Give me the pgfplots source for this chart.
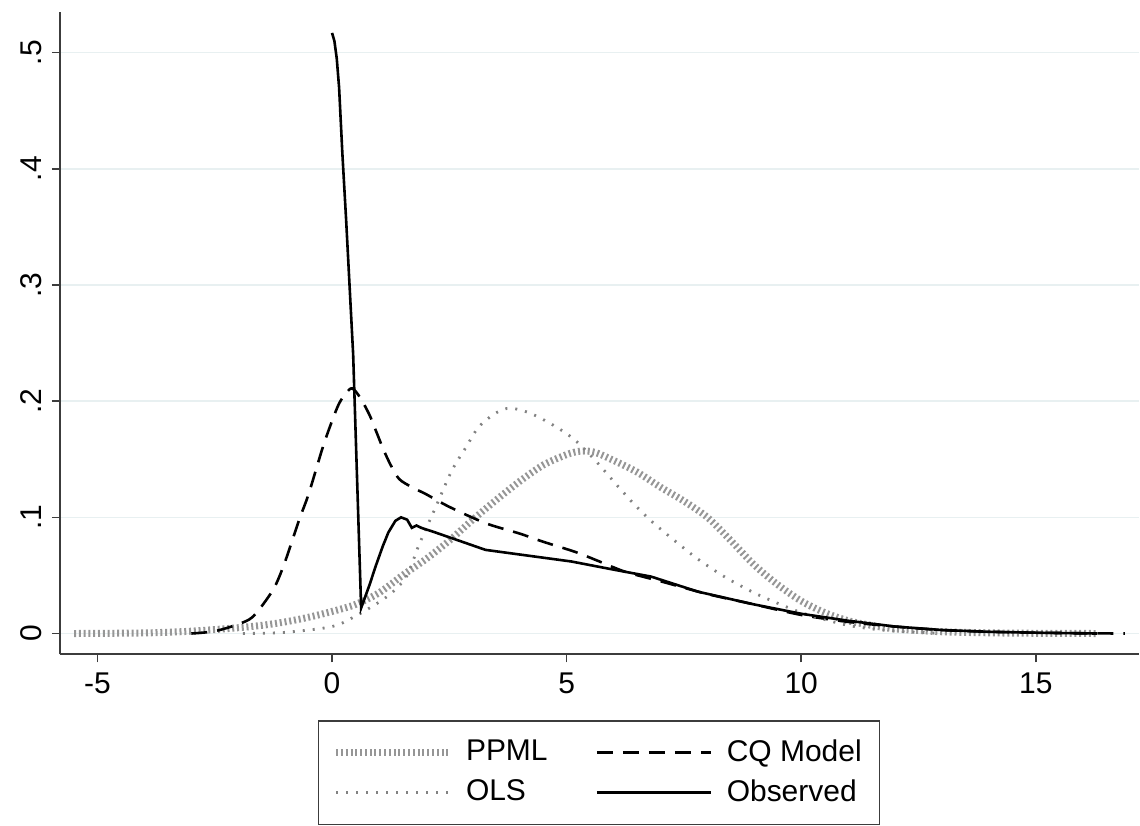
\documentclass[border=0pt]{standalone}
\usepackage{pgfplots}
\pgfplotsset{compat=1.18}
\usepackage{fontspec}
\setmainfont{Liberation Sans}
\definecolor{gridc}{RGB}{232,240,241}
\definecolor{axc}{RGB}{60,60,60}
\definecolor{ppmlc}{RGB}{150,150,150}
\definecolor{olsc}{RGB}{130,130,130}
\begin{document}
\fontsize{15}{18}\selectfont
\begin{tikzpicture}
\begin{axis}[
    scale only axis,
    width=540pt, height=321.5pt,
    xmin=-5.8, xmax=17.2,
    ymin=-0.018, ymax=0.535,
    axis x line=bottom, axis y line=left,
    axis line style={-, axc, line width=1pt},
    xtick={-5,0,5,10,15},
    ytick={0,0.1,0.2,0.3,0.4,0.5},
    yticklabels={0,.1,.2,.3,.4,.5},
    yticklabel style={rotate=90, anchor=south},
    tick align=outside,
    tick style={axc, line width=0.8pt},
    major tick length=4pt,
    ymajorgrids,
    grid style={gridc, line width=0.8pt},
    /pgf/number format/assume math mode=true,
    legend columns=2,
    legend cell align=left,
    legend image code/.code={\draw[#1] (0pt,0pt) -- (57pt,0pt);
      \path[draw=none, fill=none] (0pt,-10pt) rectangle (63pt,10pt);},
    legend style={at={(0.239,-0.102)}, anchor=north west, draw=axc, line width=0.8pt,
      inner xsep=7pt, inner ysep=6pt,
      /tikz/every even column/.append style={column sep=22pt},
      font=\fontsize{15}{18}\selectfont},
  ]
  % PPML
  \addplot[ppmlc, line width=3.5pt, dash pattern=on 1pt off 1.4pt, smooth] coordinates {
    (-5.5,0) (-4,0.0005) (-3,0.002) (-2,0.005) (-1.5,0.007) (-1,0.010) (-0.5,0.014)
    (0,0.019) (0.5,0.025) (1,0.035) (1.5,0.050) (2,0.064) (2.5,0.080) (3,0.098)
    (3.5,0.115) (4,0.131) (4.5,0.145) (5,0.154) (5.3,0.157) (5.6,0.156) (6,0.149)
    (6.5,0.139) (7,0.126) (7.5,0.114) (8,0.100) (8.5,0.080) (9,0.059) (9.5,0.042)
    (10,0.028) (10.5,0.018) (11,0.011) (11.5,0.007) (12,0.004) (13,0.0015)
    (14,0.0006) (15,0.0002) (16.3,0)
  };
  \addlegendentry{PPML}
  % CQ model
  \addplot[black, line width=1.3pt, dash pattern=on 8pt off 5pt, smooth] coordinates {
    (-3,0) (-2.5,0.002) (-2,0.008) (-1.7,0.014) (-1.4,0.029) (-1.2,0.042) (-1,0.062)
    (-0.7,0.098) (-0.5,0.12) (-0.2,0.16) (0,0.183) (0.15,0.198) (0.3,0.207) (0.43,0.211)
    (0.6,0.203) (0.8,0.188) (0.93,0.175) (1.1,0.158) (1.25,0.145) (1.43,0.133)
    (1.7,0.126) (2,0.12) (2.5,0.109) (3.27,0.095) (4,0.086) (4.5,0.079) (5.2,0.07)
    (5.7,0.062) (6.26,0.053) (7,0.045) (8,0.034) (9,0.025) (10,0.016) (11,0.010)
    (12,0.006) (13,0.003) (14,0.0015) (15,0.0007) (16,0.0002) (16.9,0)
  };
  \addlegendentry{CQ Model}
  % OLS
  \addplot[olsc, line width=1.4pt, dash pattern=on 1pt off 4pt, smooth] coordinates {
    (-1.9,0) (-1,0.001) (0,0.006) (0.5,0.015) (1,0.027) (1.3,0.036) (1.6,0.05)
    (1.85,0.076) (2.2,0.108) (2.55,0.14) (2.85,0.16) (3.13,0.178) (3.5,0.19)
    (3.8,0.194) (4.2,0.19) (4.6,0.182) (5,0.172) (5.3,0.162) (5.7,0.145) (6,0.131)
    (6.4,0.113) (6.8,0.097) (7.3,0.08) (7.8,0.064) (8.4,0.048) (9,0.035) (9.5,0.026)
    (10,0.018) (10.5,0.012) (11,0.007) (11.5,0.004) (12,0.002) (12.5,0.001) (13,0)
  };
  \addlegendentry{OLS}
  % Observed
  \addplot[black, line width=1.3pt] coordinates {
    (0,0.517) (0.05,0.51) (0.1,0.495) (0.15,0.47) (0.22,0.413) (0.3,0.356) (0.45,0.24)
    (0.62,0.022) (0.8,0.042) (0.93,0.058) (1.08,0.075) (1.2,0.087) (1.35,0.097)
    (1.47,0.1) (1.6,0.098) (1.7,0.091) (1.8,0.093) (1.9,0.091) (2.2,0.087) (2.7,0.08)
    (3.27,0.072) (4,0.068) (5.1,0.062) (6,0.055) (6.8,0.049) (7.8,0.036) (9,0.025)
    (10,0.017) (11,0.011) (12,0.006) (13,0.003) (14,0.0015) (15,0.0007) (16.3,0)
  };
  \addlegendentry{Observed}
\end{axis}
\path[use as bounding box] (-30pt,-81pt) rectangle (540pt,327.5pt);
\end{tikzpicture}
\end{document}
